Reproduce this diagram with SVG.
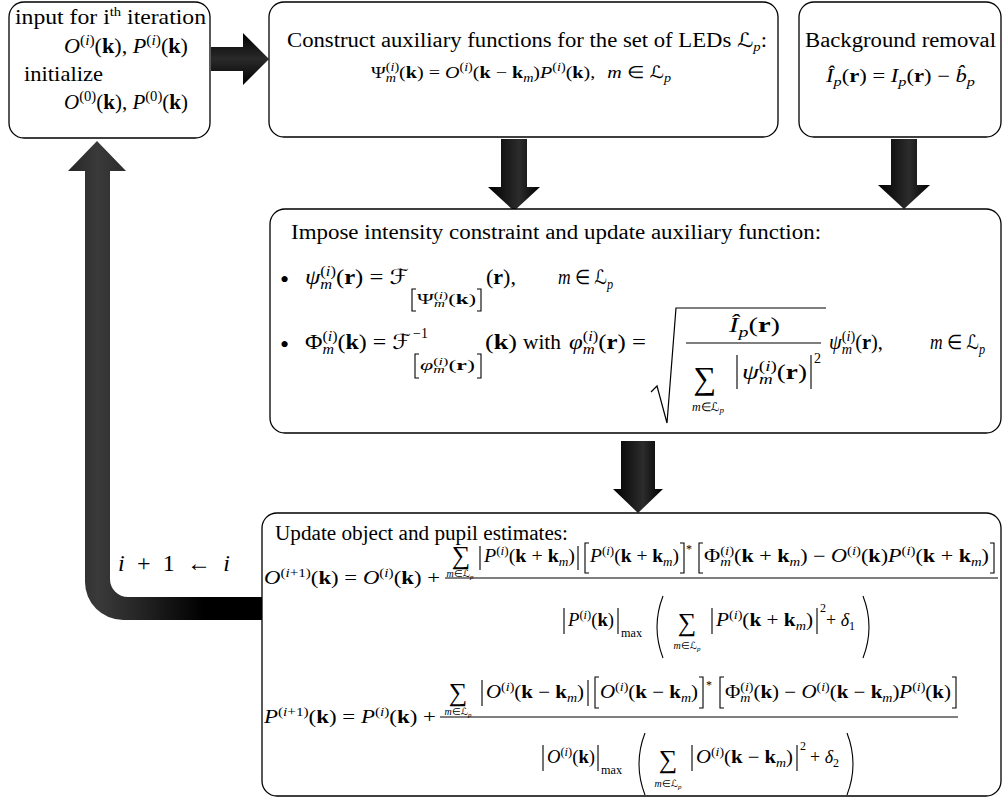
<svg xmlns="http://www.w3.org/2000/svg" width="1003" height="798" viewBox="0 0 1003 798">
<defs>
<style>
.tx{font-family:"Liberation Serif","Times New Roman",serif;fill:#000}
.it{font-style:italic}
.bf{font-weight:bold}
.cal{font-family:"DejaVu Serif","DejaVu Sans",serif;font-style:normal}
.box{fill:#fff;stroke:#000;stroke-width:1.3}
.dl{fill:none;stroke:#000;stroke-width:1.1}
.sq{fill:none;stroke:#000;stroke-width:1.2;stroke-linejoin:miter}
</style>
<linearGradient id="gV" x1="0" y1="0" x2="1" y2="0"><stop offset="0" stop-color="#000"/><stop offset="0.6" stop-color="#2c2c2c"/><stop offset="1" stop-color="#000"/></linearGradient>
<linearGradient id="gH" x1="0" y1="0" x2="0" y2="1"><stop offset="0" stop-color="#000"/><stop offset="0.5" stop-color="#2a2a2a"/><stop offset="1" stop-color="#000"/></linearGradient>
<linearGradient id="gL" gradientUnits="userSpaceOnUse" x1="68" y1="0" x2="262" y2="0"><stop offset="0" stop-color="#262626"/><stop offset="0.15" stop-color="#3a3a3a"/><stop offset="0.3" stop-color="#2c2c2c"/><stop offset="0.7" stop-color="#000"/><stop offset="1" stop-color="#000"/></linearGradient>
</defs>
<rect width="1003" height="798" fill="#fff"/>

<g id="connectors">
<path d="M211 47 H243 V33 L269 59 L243 85 V71 H211 Z" fill="url(#gH)"/>
<path d="M501 139 H527 V187 H540 L514 211 L488 187 H501 Z" fill="url(#gV)"/>
<path d="M891 139 H917 V185 H930 L904 209 L878 185 H891 Z" fill="url(#gV)"/>
<path d="M621 441 H655 V489 H663 L638 513 L613 489 H621 Z" fill="url(#gV)"/>
<path d="M262 597 L128 597 A18 18 0 0 1 110 579 L110 171 L126 171 L97 141 L68 171 L85 171 L85 582 A38 38 0 0 0 123 620 L262 620 Z" fill="url(#gL)"/>
<text class="tx" x="118" y="571" font-size="24" textLength="112" lengthAdjust="spacing"><tspan class="it">i</tspan> + 1 ← <tspan class="it">i</tspan></text>
</g>

<g id="node-input">
<rect class="box" x="9" y="2" width="201" height="136" rx="15"/>
<text class="tx" x="15" y="24" font-size="21" textLength="191" lengthAdjust="spacingAndGlyphs">input for i<tspan font-size="13" dy="-8">th</tspan><tspan dy="8"> iteration</tspan></text>
<text class="tx" x="64" y="53" font-size="20" textLength="124" lengthAdjust="spacingAndGlyphs"><tspan class="it">O</tspan><tspan font-size="14" dy="-8">(<tspan class="it">i</tspan>)</tspan><tspan dy="8">(<tspan class="bf">k</tspan>), <tspan class="it">P</tspan></tspan><tspan font-size="14" dy="-8">(<tspan class="it">i</tspan>)</tspan><tspan dy="8">(<tspan class="bf">k</tspan>)</tspan></text>
<text class="tx" x="24" y="81" font-size="21" textLength="79" lengthAdjust="spacingAndGlyphs">initialize</text>
<text class="tx" x="64" y="109" font-size="20" textLength="124" lengthAdjust="spacingAndGlyphs"><tspan class="it">O</tspan><tspan font-size="14" dy="-8">(0)</tspan><tspan dy="8">(<tspan class="bf">k</tspan>), <tspan class="it">P</tspan></tspan><tspan font-size="14" dy="-8">(0)</tspan><tspan dy="8">(<tspan class="bf">k</tspan>)</tspan></text>
</g>

<g id="node-construct">
<rect class="box" x="269" y="2" width="509" height="135" rx="15"/>
<text class="tx" x="287" y="47" font-size="20" textLength="480" lengthAdjust="spacingAndGlyphs">Construct auxiliary functions for the set of LEDs <tspan class="cal">ℒ</tspan><tspan class="it" font-size="13" dy="4">p</tspan><tspan dy="-4">:</tspan></text>
<text class="tx" x="371" y="78" font-size="17" textLength="300" lengthAdjust="spacingAndGlyphs">Ψ<tspan font-size="12" dy="-7">(<tspan class="it">i</tspan>)</tspan><tspan font-size="12" class="it" dx="-11.3" dy="11">m</tspan><tspan dx="2.6" dy="-4">(<tspan class="bf">k</tspan>) = <tspan class="it">O</tspan></tspan><tspan font-size="12" dy="-7">(<tspan class="it">i</tspan>)</tspan><tspan dy="7">(<tspan class="bf">k</tspan> − <tspan class="bf">k</tspan></tspan><tspan font-size="12" class="it" dy="4">m</tspan><tspan dy="-4">)<tspan class="it">P</tspan></tspan><tspan font-size="12" dy="-7">(<tspan class="it">i</tspan>)</tspan><tspan dy="7">(<tspan class="bf">k</tspan>), <tspan class="it" dx="6">m</tspan> ∈ <tspan class="cal">ℒ</tspan></tspan><tspan font-size="12" class="it" dy="4">p</tspan></text>
</g>

<g id="node-background">
<rect class="box" x="799" y="2" width="202" height="135" rx="15"/>
<text class="tx" x="805" y="47" font-size="20" textLength="191" lengthAdjust="spacingAndGlyphs">Background removal</text>
<text class="tx" x="826" y="82" font-size="18" textLength="149" lengthAdjust="spacingAndGlyphs"><tspan class="it">Î</tspan><tspan font-size="13" class="it" dy="4">p</tspan><tspan dy="-4">(<tspan class="bf">r</tspan>) = <tspan class="it">I</tspan></tspan><tspan font-size="13" class="it" dy="4">p</tspan><tspan dy="-4">(<tspan class="bf">r</tspan>) − <tspan class="it">b̂</tspan></tspan><tspan font-size="13" class="it" dy="4">p</tspan></text>
</g>

<g id="node-impose">
<rect class="box" x="270" y="209" width="731" height="224" rx="15"/>
<text class="tx" x="291" y="239" font-size="20" textLength="530" lengthAdjust="spacingAndGlyphs">Impose intensity constraint and update auxiliary function:</text>
<text class="tx" x="280" y="288" font-size="26">•</text>
<text class="tx" x="305" y="284" font-size="21" textLength="104" lengthAdjust="spacingAndGlyphs"><tspan class="it">ψ</tspan><tspan font-size="14" dy="-8">(<tspan class="it">i</tspan>)</tspan><tspan font-size="14" class="it" dx="-13.2" dy="13">m</tspan><tspan dx="3.1" dy="-5">(<tspan class="bf">r</tspan>) = <tspan class="cal">ℱ</tspan></tspan></text>
<path class="dl" d="M416 289 H412 V311 H416 M477 289 H481 V311 H477"/>
<text class="tx" x="417" y="304" font-size="15" textLength="59" lengthAdjust="spacingAndGlyphs">Ψ<tspan font-size="10" dy="-5">(<tspan class="it">i</tspan>)</tspan><tspan font-size="10" class="it" dx="-9.4" dy="8">m</tspan><tspan dx="2.2" dy="-3">(<tspan class="bf">k</tspan>)</tspan></text>
<text class="tx" x="486" y="284" font-size="21" textLength="30" lengthAdjust="spacingAndGlyphs">(<tspan class="bf">r</tspan>),</text>
<text class="tx" x="558" y="284" font-size="20" textLength="55" lengthAdjust="spacingAndGlyphs"><tspan class="it">m</tspan> ∈ <tspan class="cal">ℒ</tspan><tspan font-size="14" class="it" dy="5">p</tspan></text>

<text class="tx" x="280" y="353" font-size="26">•</text>
<text class="tx" x="305" y="349" font-size="21" textLength="106" lengthAdjust="spacingAndGlyphs">Φ<tspan font-size="14" dy="-8">(<tspan class="it">i</tspan>)</tspan><tspan font-size="14" class="it" dx="-13.2" dy="13">m</tspan><tspan dx="3.1" dy="-5">(<tspan class="bf">k</tspan>) = <tspan class="cal">ℱ</tspan></tspan></text>
<text class="tx" x="413" y="338" font-size="14">−1</text>
<path class="dl" d="M419 354 H415 V378 H419 M477 354 H481 V378 H477"/>
<text class="tx" x="420" y="370" font-size="15" textLength="55" lengthAdjust="spacingAndGlyphs"><tspan class="it">φ</tspan><tspan font-size="10" dy="-5">(<tspan class="it">i</tspan>)</tspan><tspan font-size="10" class="it" dx="-9.4" dy="8">m</tspan><tspan dx="2.2" dy="-3">(<tspan class="bf">r</tspan>)</tspan></text>
<text class="tx" x="485" y="349" font-size="21" textLength="32" lengthAdjust="spacingAndGlyphs">(<tspan class="bf">k</tspan>)</text>
<text class="tx" x="523" y="349" font-size="20" textLength="38" lengthAdjust="spacingAndGlyphs">with</text>
<text class="tx" x="569" y="349" font-size="21" textLength="77" lengthAdjust="spacingAndGlyphs"><tspan class="it">φ</tspan><tspan font-size="14" dy="-8">(<tspan class="it">i</tspan>)</tspan><tspan font-size="14" class="it" dx="-13.2" dy="13">m</tspan><tspan dx="3.1" dy="-5">(<tspan class="bf">r</tspan>) =</tspan></text>
<path class="sq" d="M651 392 L657 386 L667 423 L676 308 L826 308"/>
<text class="tx" x="729" y="332" font-size="20" textLength="51" lengthAdjust="spacingAndGlyphs"><tspan class="it">Î</tspan><tspan font-size="14" class="it" dy="5">p</tspan><tspan dy="-5">(<tspan class="bf">r</tspan>)</tspan></text>
<path class="dl" d="M686 343 H821"/>
<text class="tx" x="705" y="389" font-size="32" text-anchor="middle">∑</text>
<text class="tx" x="708" y="411" font-size="12" text-anchor="middle"><tspan class="it">m</tspan>∈<tspan class="cal">ℒ</tspan><tspan class="it" font-size="9" dy="2">p</tspan></text>
<path class="dl" d="M737 355 V389 M811 355 V389"/>
<text class="tx" x="742" y="379" font-size="20" textLength="65" lengthAdjust="spacingAndGlyphs"><tspan class="it">ψ</tspan><tspan font-size="14" dy="-8">(<tspan class="it">i</tspan>)</tspan><tspan font-size="14" class="it" dx="-13.2" dy="13">m</tspan><tspan dx="3.1" dy="-5">(<tspan class="bf">r</tspan>)</tspan></text>
<text class="tx" x="814" y="363" font-size="14">2</text>
<text class="tx" x="829" y="349" font-size="20" textLength="54" lengthAdjust="spacingAndGlyphs"><tspan class="it">ψ</tspan><tspan font-size="14" dy="-8">(<tspan class="it">i</tspan>)</tspan><tspan font-size="14" class="it" dx="-13.2" dy="13">m</tspan><tspan dx="3.1" dy="-5">(<tspan class="bf">r</tspan>),</tspan></text>
<text class="tx" x="930" y="349" font-size="20" textLength="55" lengthAdjust="spacingAndGlyphs"><tspan class="it">m</tspan> ∈ <tspan class="cal">ℒ</tspan><tspan font-size="14" class="it" dy="5">p</tspan></text>
</g>

<g id="node-update">
<rect class="box" x="262" y="513" width="739" height="283" rx="15"/>
<text class="tx" x="275" y="540" font-size="20" textLength="293" lengthAdjust="spacingAndGlyphs">Update object and pupil estimates:</text>

<text class="tx" x="264" y="584" font-size="18" textLength="176" lengthAdjust="spacingAndGlyphs"><tspan class="it">O</tspan><tspan font-size="12" dy="-7">(<tspan class="it">i</tspan>+1)</tspan><tspan dy="7">(<tspan class="bf">k</tspan>) = <tspan class="it">O</tspan></tspan><tspan font-size="12" dy="-7">(<tspan class="it">i</tspan>)</tspan><tspan dy="7">(<tspan class="bf">k</tspan>) +</tspan></text>
<path class="dl" d="M445 578 H998"/>
<text class="tx" x="461" y="564" font-size="26" text-anchor="middle">∑</text>
<text class="tx" x="460" y="577" font-size="10" text-anchor="middle"><tspan class="it">m</tspan>∈<tspan class="cal">ℒ</tspan><tspan class="it" font-size="7" dy="2">p</tspan></text>
<path class="dl" d="M480 546 V570 M578 546 V570"/>
<text class="tx" x="484" y="562" font-size="18" textLength="91" lengthAdjust="spacingAndGlyphs"><tspan class="it">P</tspan><tspan font-size="12" dy="-7">(<tspan class="it">i</tspan>)</tspan><tspan dy="7">(<tspan class="bf">k</tspan> + <tspan class="bf">k</tspan></tspan><tspan font-size="12" class="it" dy="4">m</tspan><tspan dy="-4">)</tspan></text>
<path class="dl" d="M589 543 H585 V573 H589 M680 543 H684 V573 H680"/>
<text class="tx" x="590" y="562" font-size="18" textLength="89" lengthAdjust="spacingAndGlyphs"><tspan class="it">P</tspan><tspan font-size="12" dy="-7">(<tspan class="it">i</tspan>)</tspan><tspan dy="7">(<tspan class="bf">k</tspan> + <tspan class="bf">k</tspan></tspan><tspan font-size="12" class="it" dy="4">m</tspan><tspan dy="-4">)</tspan></text>
<text class="tx" x="686" y="553" font-size="12">*</text>
<path class="dl" d="M703 543 H699 V573 H703 M990 543 H994 V573 H990"/>
<text class="tx" x="704" y="562" font-size="18" textLength="285" lengthAdjust="spacingAndGlyphs">Φ<tspan font-size="12" dy="-7">(<tspan class="it">i</tspan>)</tspan><tspan font-size="12" class="it" dx="-11.3" dy="11">m</tspan><tspan dx="2.6" dy="-4">(<tspan class="bf">k</tspan> + <tspan class="bf">k</tspan></tspan><tspan font-size="12" class="it" dy="4">m</tspan><tspan dy="-4">) − <tspan class="it">O</tspan></tspan><tspan font-size="12" dy="-7">(<tspan class="it">i</tspan>)</tspan><tspan dy="7">(<tspan class="bf">k</tspan>)<tspan class="it">P</tspan></tspan><tspan font-size="12" dy="-7">(<tspan class="it">i</tspan>)</tspan><tspan dy="7">(<tspan class="bf">k</tspan> + <tspan class="bf">k</tspan></tspan><tspan font-size="12" class="it" dy="4">m</tspan><tspan dy="-4">)</tspan></text>

<path class="dl" d="M564 608 V634 M618 608 V634"/>
<text class="tx" x="568" y="626" font-size="18" textLength="46" lengthAdjust="spacingAndGlyphs"><tspan class="it">P</tspan><tspan font-size="12" dy="-7">(<tspan class="it">i</tspan>)</tspan><tspan dy="7">(<tspan class="bf">k</tspan>)</tspan></text>
<text class="tx" x="621" y="637" font-size="12" textLength="21" lengthAdjust="spacingAndGlyphs">max</text>
<path class="dl" d="M663 596 Q651 627 663 658 M863 596 Q875 627 863 658"/>
<text class="tx" x="687" y="631" font-size="26" text-anchor="middle">∑</text>
<text class="tx" x="687" y="649" font-size="10" text-anchor="middle"><tspan class="it">m</tspan>∈<tspan class="cal">ℒ</tspan><tspan class="it" font-size="7" dy="2">p</tspan></text>
<path class="dl" d="M712 608 V634 M817 608 V634"/>
<text class="tx" x="716" y="626" font-size="18" textLength="97" lengthAdjust="spacingAndGlyphs"><tspan class="it">P</tspan><tspan font-size="12" dy="-7">(<tspan class="it">i</tspan>)</tspan><tspan dy="7">(<tspan class="bf">k</tspan> + <tspan class="bf">k</tspan></tspan><tspan font-size="12" class="it" dy="4">m</tspan><tspan dy="-4">)</tspan></text>
<text class="tx" x="820" y="612" font-size="12">2</text>
<text class="tx" x="826" y="626" font-size="18">+ <tspan class="it">δ</tspan><tspan font-size="12" dy="4">1</tspan></text>

<text class="tx" x="264" y="723" font-size="18" textLength="172" lengthAdjust="spacingAndGlyphs"><tspan class="it">P</tspan><tspan font-size="12" dy="-7">(<tspan class="it">i</tspan>+1)</tspan><tspan dy="7">(<tspan class="bf">k</tspan>) = <tspan class="it">P</tspan></tspan><tspan font-size="12" dy="-7">(<tspan class="it">i</tspan>)</tspan><tspan dy="7">(<tspan class="bf">k</tspan>) +</tspan></text>
<path class="dl" d="M440 717 H958"/>
<text class="tx" x="458" y="701" font-size="26" text-anchor="middle">∑</text>
<text class="tx" x="458" y="715" font-size="10" text-anchor="middle"><tspan class="it">m</tspan>∈<tspan class="cal">ℒ</tspan><tspan class="it" font-size="7" dy="2">p</tspan></text>
<path class="dl" d="M482 680 V706 M588 680 V706"/>
<text class="tx" x="486" y="698" font-size="18" textLength="98" lengthAdjust="spacingAndGlyphs"><tspan class="it">O</tspan><tspan font-size="12" dy="-7">(<tspan class="it">i</tspan>)</tspan><tspan dy="7">(<tspan class="bf">k</tspan> − <tspan class="bf">k</tspan></tspan><tspan font-size="12" class="it" dy="4">m</tspan><tspan dy="-4">)</tspan></text>
<path class="dl" d="M599 677 H595 V708 H599 M699 677 H703 V708 H699"/>
<text class="tx" x="600" y="698" font-size="18" textLength="98" lengthAdjust="spacingAndGlyphs"><tspan class="it">O</tspan><tspan font-size="12" dy="-7">(<tspan class="it">i</tspan>)</tspan><tspan dy="7">(<tspan class="bf">k</tspan> − <tspan class="bf">k</tspan></tspan><tspan font-size="12" class="it" dy="4">m</tspan><tspan dy="-4">)</tspan></text>
<text class="tx" x="706" y="689" font-size="12">*</text>
<path class="dl" d="M724 677 H720 V708 H724 M952 677 H956 V708 H952"/>
<text class="tx" x="725" y="698" font-size="18" textLength="226" lengthAdjust="spacingAndGlyphs">Φ<tspan font-size="12" dy="-7">(<tspan class="it">i</tspan>)</tspan><tspan font-size="12" class="it" dx="-11.3" dy="11">m</tspan><tspan dx="2.6" dy="-4">(<tspan class="bf">k</tspan>) − <tspan class="it">O</tspan></tspan><tspan font-size="12" dy="-7">(<tspan class="it">i</tspan>)</tspan><tspan dy="7">(<tspan class="bf">k</tspan> − <tspan class="bf">k</tspan></tspan><tspan font-size="12" class="it" dy="4">m</tspan><tspan dy="-4">)<tspan class="it">P</tspan></tspan><tspan font-size="12" dy="-7">(<tspan class="it">i</tspan>)</tspan><tspan dy="7">(<tspan class="bf">k</tspan>)</tspan></text>

<path class="dl" d="M543 745 V771 M598 745 V771"/>
<text class="tx" x="547" y="763" font-size="18" textLength="48" lengthAdjust="spacingAndGlyphs"><tspan class="it">O</tspan><tspan font-size="12" dy="-7">(<tspan class="it">i</tspan>)</tspan><tspan dy="7">(<tspan class="bf">k</tspan>)</tspan></text>
<text class="tx" x="601" y="774" font-size="12" textLength="21" lengthAdjust="spacingAndGlyphs">max</text>
<path class="dl" d="M645 733 Q633 764 645 795 M847 733 Q859 764 847 795"/>
<text class="tx" x="668" y="768" font-size="26" text-anchor="middle">∑</text>
<text class="tx" x="668" y="787" font-size="10" text-anchor="middle"><tspan class="it">m</tspan>∈<tspan class="cal">ℒ</tspan><tspan class="it" font-size="7" dy="2">p</tspan></text>
<path class="dl" d="M692 745 V771 M797 745 V771"/>
<text class="tx" x="696" y="763" font-size="18" textLength="97" lengthAdjust="spacingAndGlyphs"><tspan class="it">O</tspan><tspan font-size="12" dy="-7">(<tspan class="it">i</tspan>)</tspan><tspan dy="7">(<tspan class="bf">k</tspan> − <tspan class="bf">k</tspan></tspan><tspan font-size="12" class="it" dy="4">m</tspan><tspan dy="-4">)</tspan></text>
<text class="tx" x="800" y="750" font-size="12">2</text>
<text class="tx" x="810" y="763" font-size="18">+ <tspan class="it">δ</tspan><tspan font-size="12" dy="4">2</tspan></text>
</g>
</svg>
